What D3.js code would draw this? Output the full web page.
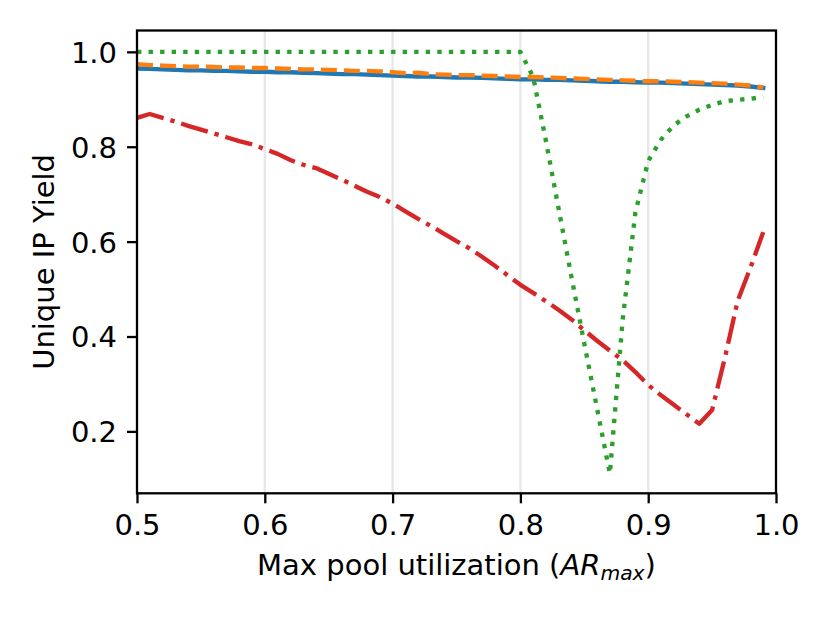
<!DOCTYPE html>
<html>
<head>
<meta charset="utf-8">
<script src="https://cdn.jsdelivr.net/npm/d3@7"></script>
<style>
  html, body { margin: 0; padding: 0; background: #fff; }
  svg { display: block; }
  text { font-family: "DejaVu Sans", sans-serif; fill: #000; }
</style>
</head>
<body>
<svg id="chart" width="830" height="623"></svg>
<script>
// ---- data ----
const xValues = [0.50,0.51,0.52,0.53,0.54,0.55,0.56,0.57,0.58,0.59,
                 0.60,0.61,0.62,0.63,0.64,0.65,0.66,0.67,0.68,0.69,
                 0.70,0.71,0.72,0.73,0.74,0.75,0.76,0.77,0.78,0.79,
                 0.80,0.81,0.82,0.83,0.84,0.85,0.86,0.87,0.88,0.89,
                 0.90,0.91,0.92,0.93,0.94,0.95,0.96,0.97,0.98,0.99];

const blueSeries = [0.965,0.964,0.963,0.962,0.961,0.961,0.960,0.960,0.959,0.958,
                    0.958,0.957,0.957,0.956,0.955,0.954,0.953,0.953,0.952,0.951,
                    0.950,0.949,0.948,0.948,0.947,0.946,0.946,0.945,0.944,0.943,
                    0.942,0.942,0.941,0.941,0.940,0.939,0.938,0.937,0.937,0.936,
                    0.935,0.935,0.934,0.933,0.932,0.931,0.930,0.929,0.927,0.924];

const orangeSeries = [0.974,0.972,0.971,0.970,0.969,0.969,0.968,0.967,0.967,0.966,
                      0.966,0.965,0.964,0.963,0.963,0.962,0.961,0.960,0.960,0.959,
                      0.957,0.955,0.956,0.953,0.952,0.951,0.951,0.950,0.949,0.948,
                      0.947,0.947,0.946,0.945,0.944,0.943,0.942,0.941,0.940,0.939,
                      0.938,0.938,0.937,0.936,0.935,0.934,0.933,0.931,0.929,0.925];

const greenSeries = [1.0,1.0,1.0,1.0,1.0,1.0,1.0,1.0,1.0,1.0,
                     1.0,1.0,1.0,1.0,1.0,1.0,1.0,1.0,1.0,1.0,
                     1.0,1.0,1.0,1.0,1.0,1.0,1.0,1.0,1.0,1.0,
                     1.0,0.947,0.812,0.668,0.525,0.385,0.248,0.111,0.435,0.662,
                     0.770,0.815,0.845,0.864,0.878,0.888,0.896,0.899,0.901,0.905];

const redSeries = [0.861,0.869,0.861,0.853,0.844,0.836,0.828,0.820,0.812,0.805,
                   0.795,0.785,0.772,0.762,0.755,0.743,0.731,0.718,0.705,0.694,
                   0.680,0.664,0.648,0.633,0.617,0.601,0.586,0.568,0.549,0.529,
                   0.509,0.492,0.474,0.456,0.436,0.413,0.391,0.370,0.350,0.325,
                   0.298,0.276,0.256,0.236,0.216,0.245,0.355,0.475,0.545,0.620];

const xTicks = [0.5,0.6,0.7,0.8,0.9,1.0];
const yTicks = [0.2,0.4,0.6,0.8,1.0];
const xLabelMain = "Max pool utilization (";
const yLabel = "Unique IP Yield";

// ---- layout ----
const plot = { left: 137, right: 776, top: 30.5, bottom: 493.3 };
const FS = 29;

const svg = d3.select("#chart");
svg.append("rect").attr("width", 830).attr("height", 623).attr("fill", "#fff");

const x = d3.scaleLinear().domain([0.5, 1.0]).range([plot.left, plot.right]);
const y = d3.scaleLinear().domain([0.0695, 1.045]).range([plot.bottom, plot.top]);

// grid (vertical only)
svg.append("g").selectAll("line")
  .data(xTicks.filter(d => d > 0.5 && d < 1.0))
  .join("line")
  .attr("x1", d => x(d)).attr("x2", d => x(d))
  .attr("y1", plot.top).attr("y2", plot.bottom)
  .attr("stroke", "#b0b0b0").attr("stroke-opacity", 0.3)
  .attr("stroke-width", 2.3);

// series
const series = [
  { vals: blueSeries,   color: "#1f77b4", dash: null },
  { vals: orangeSeries, color: "#ff7f0e", dash: "16,7" },
  { vals: greenSeries,  color: "#2ca02c", dash: "4.35,7.2" },
  { vals: redSeries,    color: "#d62728", dash: "27.8,7,4.35,7" }
];

svg.append("clipPath").attr("id", "clip")
  .append("rect").attr("x", plot.left).attr("y", plot.top)
  .attr("width", plot.right - plot.left).attr("height", plot.bottom - plot.top);

const line = d3.line().x(d => x(d[0])).y(d => y(d[1]));
const g = svg.append("g").attr("clip-path", "url(#clip)");
series.forEach(s => {
  const pts = xValues.map((xv, i) => [xv, s.vals[i]]);
  const p = g.append("path")
    .attr("d", line(pts))
    .attr("fill", "none")
    .attr("stroke", s.color)
    .attr("stroke-width", 4.35)
    .attr("stroke-linejoin", "round")
    .attr("stroke-linecap", s.dash ? "butt" : "square");
  if (s.dash) p.attr("stroke-dasharray", s.dash);
});

// axes
const xAxis = d3.axisBottom(x).tickValues(xTicks).tickFormat(d3.format(".1f"))
  .tickSize(10).tickPadding(10).tickSizeOuter(0);
const yAxis = d3.axisLeft(y).tickValues(yTicks).tickFormat(d3.format(".1f"))
  .tickSize(10).tickPadding(10).tickSizeOuter(0);

const gx = svg.append("g").attr("transform", `translate(0,${plot.bottom})`).call(xAxis);
const gy = svg.append("g").attr("transform", `translate(${plot.left},0)`).call(yAxis);
[gx, gy].forEach(ax => {
  ax.select(".domain").remove();
  ax.selectAll(".tick line").attr("stroke", "#000").attr("stroke-width", 2.3);
  ax.selectAll(".tick text").attr("font-size", FS).attr("font-family", "DejaVu Sans").attr("fill", "#000");
});
gx.selectAll(".tick text").attr("dy", null).attr("y", 0)
  .attr("transform", "translate(0,42)");
gy.selectAll(".tick text").attr("dy", "0.36em");

// frame
svg.append("rect")
  .attr("x", plot.left).attr("y", plot.top)
  .attr("width", plot.right - plot.left).attr("height", plot.bottom - plot.top)
  .attr("fill", "none").attr("stroke", "#000").attr("stroke-width", 2.3);

// x label
const xl = svg.append("text")
  .attr("x", (plot.left + plot.right) / 2)
  .attr("y", 575)
  .attr("text-anchor", "middle")
  .attr("font-size", FS);
xl.append("tspan").text(xLabelMain);
xl.append("tspan").attr("font-style", "italic").text("AR");
xl.append("tspan").attr("font-style", "italic").attr("font-size", FS * 0.7).attr("dy", 5).text("max");
xl.append("tspan").attr("dy", -5).text(")");

// y label
svg.append("text")
  .attr("transform", `translate(54,${(plot.top + plot.bottom) / 2}) rotate(-90)`)
  .attr("text-anchor", "middle")
  .attr("font-size", FS)
  .text(yLabel);
</script>
</body>
</html>
